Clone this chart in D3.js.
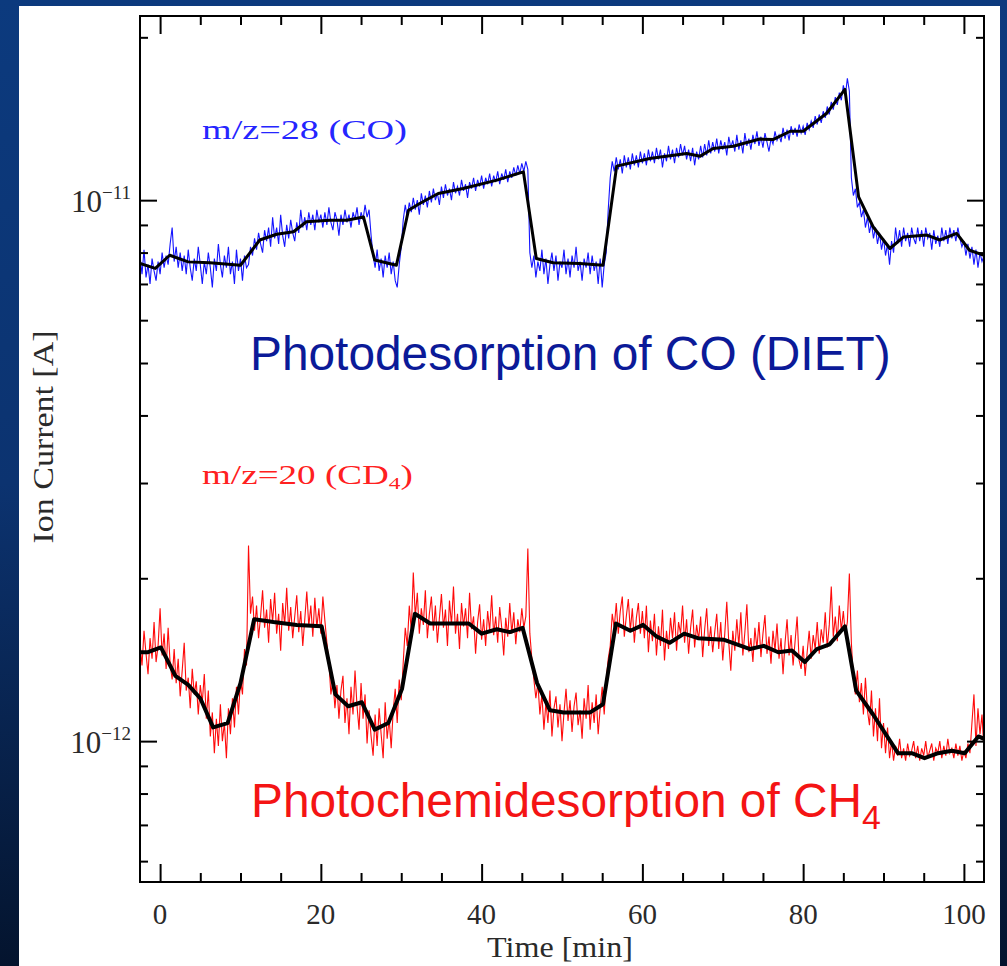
<!DOCTYPE html>
<html>
<head>
<meta charset="utf-8">
<script src="https://cdn.jsdelivr.net/npm/d3@7"></script>
<style>
  html, body { margin: 0; padding: 0; background: #0b336e; }
  svg { display: block; }
</style>
</head>
<body>
<svg id="chart" width="1007" height="966"></svg>
<script>
// ---------------------------------------------------------------
// Data: ion currents in units of 1e-12 A, sampled every 0.25 min
// ---------------------------------------------------------------
const timeDomain = [-2.5, 102.5];          // min
const currentDomain = [5.49e-13, 2.19e-11]; // A
const sampleStart = -2.5;
const sampleStep = 0.25;
const unit = 1e-12;

const xMajorTicks = [0, 20, 40, 60, 80, 100];
const xMinorTicks = [5, 10, 15, 25, 30, 35, 45, 50, 55, 65, 70, 75, 85, 90, 95];
const yMajorTicks = [1e-12, 1e-11];
const yMajorExponents = ["\u221212", "\u221211"];

// m/z = 28 (CO), raw signal
const coRaw = [
  // -2.5 .. 10.75 min
  7.9,7.3,8.1,7.2, 7.6,7.0,7.8,7.4, 7.1,7.7,7.3,8.0, 7.5,7.9,7.6,8.3,
  8.9,7.7,8.2,7.5, 8.0,7.4,7.9,7.3, 8.1,7.5,7.1,7.8, 7.4,8.2,7.6,7.0,
  7.7,7.3,8.0,7.5, 6.9,7.8,7.4,8.3, 7.6,7.2,7.9,7.5, 8.2,7.3,7.7,7.0,
  8.1,7.4,7.8,7.1, 7.9,7.5,
  // 11 .. 26 min
  7.6,8.2,7.9,8.5, 8.1,8.7,8.3,8.0, 8.8,8.4,8.9,8.2, 9.3,8.5,8.9,8.3, 9.4,8.6,8.2,9.0,
  8.5,9.2,8.7,8.4, 9.1,8.7,9.6,8.9, 9.3,8.8,9.5,9.0, 9.4,8.8,9.6,9.1, 9.4,8.9,9.5,9.0,
  9.7,9.1,8.8,9.5, 9.2,8.6,9.4,9.0, 9.6,9.1,9.4,8.9, 9.5,9.2,9.7,9.0, 9.5,9.2,9.8,9.3,
  9.6,
  // 26.25 .. 30 min
  8.6,7.9,7.5, 8.1,7.4,7.8,7.2, 7.9,7.5,8.0,7.3, 7.7,7.1,6.9,7.6, 8.2,
  // 30.25 .. 45.75 min
  9.2,9.8,9.3,
  9.9,9.5,10.1,9.6, 10.0,9.4,10.3,9.8, 10.2,9.7,10.4,9.9, 10.5,10.0,10.3,9.8, 10.6,10.1,10.7,10.2,
  10.5,10.0,10.8,10.3, 10.6,10.2,10.9,10.4, 10.7,10.1,10.8,10.5, 11.0,10.4,10.9,10.6, 11.1,10.5,11.0,10.7,
  11.2,10.6,11.1,10.8, 11.3,10.7,11.2,10.9, 11.4,10.8,11.3,11.0, 11.5,11.1,11.6,11.2, 11.7,11.3,11.8,11.4,
  // 46 .. 55.75 min
  8.0,7.5,7.9,7.2, 7.7,7.4,8.1,7.3, 7.8,7.0,7.6,8.0, 7.4,7.9,7.1,7.7, 7.5,8.1,7.3,7.8,
  7.2,7.9,7.5,8.2, 7.4,7.7,7.1,7.8, 7.5,8.0,7.3,7.9, 7.4,7.7,7.0,7.8, 6.9,7.6,8.0,9.6,
  // 56 .. 85.75 min
  11.0,11.8,11.3,12.0, 11.4,11.9,11.2,12.1, 11.5,12.0,11.4,12.2, 11.6,12.1,11.5,12.3, 11.7,12.2,11.6,12.4,
  11.8,12.3,11.7,12.5, 11.9,12.4,11.5,12.2, 11.8,12.6,11.9,12.4, 11.7,12.5,12.0,12.7, 12.1,12.6,11.9,12.4,
  11.8,12.5,11.6,12.3, 11.9,12.6,12.0,12.7, 12.1,12.9,12.2,12.8, 12.3,13.0,12.2,12.9, 12.4,12.8,12.1,13.1,
  12.5,12.9,12.3,13.2, 12.4,12.9,12.2,13.3, 12.6,13.0,12.4,13.2, 12.7,13.4,12.6,13.1, 12.5,13.3,12.8,12.3,
  13.0,12.7,13.4,12.9, 13.2,12.8,13.6,13.0, 13.5,12.9,13.7,13.2, 13.6,13.1,13.8,13.3, 13.7,13.2,13.9,13.5,
  14.0,13.6,14.3,13.8, 14.4,13.9,14.6,14.2, 14.9,14.4,15.2,14.7, 15.5,15.0,15.8,15.3, 16.3,15.6,16.8,15.9,
  // 86 .. 102.5 min
  11.0,10.2,10.5,9.7, 9.9,9.3,9.6,8.9, 9.3,8.7,9.1,8.5, 8.9,8.3,8.7,8.1, 8.5,7.9,8.3,7.6,
  8.4,8.0,8.9,8.3, 8.8,8.2,8.9,8.4, 8.7,8.2,8.9,8.5, 8.3,8.9,8.4,8.8, 8.2,8.9,8.5,8.7,
  8.1,8.8,8.3,8.6, 8.2,8.9,8.4,8.8, 8.3,8.9,8.5,8.8, 8.4,8.9,8.5,8.2, 8.4,7.9,8.3,7.8,
  8.2,7.6,8.1,7.5, 8.0,7.7,7.9
];

// m/z = 28 (CO), smoothed trace
const coSmoothTime = [-2.5,-0.6,1.2,3.5,6.2,10,12.4,14.5,16.6,18.2,21.1,23.2,25.3,26.7,29.4,30.9,
  32.3,34.6,37.7,41.9,45.2,46.8,48.9,52.2,55.1,56.8,60.9,65.5,67.2,68.8,71.3,74.6,76.3,78.4,80,
  82.9,85.2,86.9,88.7,90.8,92.5,95.4,97,99.1,100.7,102.5];
const coSmoothValue = [7.64,7.48,7.91,7.69,7.66,7.58,8.44,8.65,8.74,9.12,9.18,9.18,9.31,7.75,7.58,9.58,
  9.86,10.29,10.51,10.89,11.28,7.80,7.66,7.64,7.58,11.56,11.94,12.20,12.06,12.46,12.58,12.97,12.95,13.41,13.41,
  14.46,16.02,10.14,8.93,8.14,8.55,8.62,8.44,8.68,8.08,7.91];

// m/z = 20 (CD4), raw signal
const cd4Raw = [
  // -2.5 .. 10.75 min
  1.52,1.38,1.60,1.45, 1.33,1.55,1.42,1.66, 1.40,1.50,1.76,1.44, 1.58,1.36,1.62,1.39, 1.30,1.48,1.28,1.42,
  1.21,1.35,1.52,1.24, 1.31,1.15,1.36,1.22, 1.29,1.12,1.27,1.18, 1.33,1.10,1.24,1.02, 1.13,0.95,1.10,0.98,
  1.17,1.00,1.08,0.93, 1.15,1.03,1.20,1.06, 1.26,1.12,1.30,1.22, 1.48,1.38,
  // 11 .. 20.75 min
  2.30,1.72,1.85,1.60, 1.78,1.55,1.70,1.90, 1.62,1.75,1.52,1.83, 1.66,1.88,1.58,1.72, 1.47,1.80,1.64,1.92,
  1.60,1.77,1.55,1.70, 1.86,1.59,1.74,1.50, 1.68,1.89,1.63,1.78, 1.56,1.84,1.62,1.76, 1.58,1.85,1.67,1.52,
  // 21 .. 30.75 min
  1.40,1.22,1.30,1.15, 1.27,1.10,1.24,1.32, 1.08,1.20,1.03,1.26, 1.12,1.35,1.16,1.05, 1.28,1.10,1.22,0.99,
  1.14,1.02,0.94,1.12, 0.98,1.15,1.03,0.93, 1.18,1.01,1.10,0.97, 1.14,1.25,1.08,1.30, 1.19,1.40,1.62,1.50,
  // 31 .. 45.75 min
  1.78,1.60,2.05,1.70, 1.88,1.58,1.76,1.64, 1.90,1.55,1.72,1.85, 1.60,1.78,1.52,1.69, 1.87,1.62,1.75,1.50,
  1.82,1.64,1.93,1.58, 1.72,1.48,1.80,1.63, 1.76,1.55,1.88,1.61, 1.70,1.45,1.66,1.79, 1.54,1.68,1.50,1.74,
  1.60,1.86,1.57,1.70, 1.52,1.77,1.62,1.44, 1.69,1.56,1.80,1.58, 1.73,1.51,1.68,1.59, 1.76,1.62,1.70,2.27,
  // 46 .. 55.75 min
  1.58,1.42,1.30,1.20, 1.28,1.12,1.22,1.05, 1.18,1.08,1.24,1.02, 1.15,1.21,1.06,1.17, 1.00,1.13,1.25,1.09,
  1.19,1.04,1.16,1.23, 1.07,1.14,1.01,1.20, 1.10,1.27,1.05,1.18, 1.08,1.22,1.03,1.15, 1.26,1.12,1.30,1.42,
  // 56 .. 85.75 min
  1.50,1.72,1.62,1.80, 1.58,1.74,1.85,1.56, 1.70,1.83,1.60,1.76, 1.52,1.69,1.80,1.58, 1.74,1.55,1.78,1.46,
  1.67,1.53,1.72,1.44, 1.63,1.50,1.75,1.41, 1.60,1.48,1.69,1.55, 1.73,1.47,1.66,1.58, 1.78,1.52,1.68,1.45,
  1.62,1.75,1.49,1.64, 1.54,1.70,1.43,1.61, 1.76,1.50,1.63,1.46, 1.59,1.72,1.48,1.66, 1.41,1.58,1.81,1.52,
  1.35,1.60,1.47,1.68, 1.50,1.73,1.44,1.59, 1.79,1.46,1.55,1.40, 1.62,1.48,1.66,1.43, 1.58,1.71,1.45,1.56,
  1.39,1.60,1.47,1.65, 1.42,1.55,1.33,1.52, 1.68,1.44,1.57,1.38, 1.53,1.70,1.41,1.36, 1.50,1.32,1.46,1.60,
  1.42,1.57,1.48,1.66, 1.45,1.61,1.52,1.73, 1.49,1.64,1.93,1.56, 1.70,1.53,1.78,1.60, 1.74,1.57,1.66,2.04,
  // 86 .. 102.5 min
  1.52,1.30,1.22,1.35, 1.18,1.28,1.12,1.31, 1.14,1.07,1.24,1.02, 1.15,1.00,1.20,0.97, 1.08,0.95,1.06,0.93,
  1.00,0.92,0.98,0.94, 1.01,0.93,0.97,0.92, 0.99,0.94,0.96,1.00, 0.93,0.98,0.92,0.97, 0.94,1.00,0.93,0.96,
  0.99,0.92,0.97,0.95, 1.00,0.93,0.98,0.94, 1.01,0.95,0.97,0.93, 0.99,0.94,0.98,0.92, 0.96,0.93,0.99,0.95,
  1.08,1.22,0.98,1.15, 1.03,1.12,0.96
];

// m/z = 20 (CD4), smoothed trace
const cd4SmoothTime = [-2.5,-1.5,0.1,1.9,3.5,5,6.6,8.4,10,11.7,14.1,17,20.1,21.8,23.4,25.1,26.7,28.4,
  30.1,31.7,33.6,36.1,38.4,40,41.9,43.5,45.1,46.9,48.5,50.2,53.5,55.1,56.7,58.5,60.1,61.8,63.4,65.2,
  66.9,70.1,73.4,75.1,76.9,78.6,80.2,81.7,83.3,85.2,86.6,88.7,91.8,93.5,95.1,96.8,98.5,100.1,101.8,102.5];
const cd4SmoothValue = [1.46,1.46,1.49,1.32,1.27,1.20,1.06,1.08,1.28,1.68,1.66,1.64,1.63,1.22,1.16,1.18,1.05,1.08,
  1.25,1.72,1.65,1.65,1.65,1.58,1.61,1.59,1.62,1.28,1.14,1.13,1.13,1.17,1.65,1.60,1.64,1.56,1.52,1.58,
  1.55,1.54,1.48,1.50,1.46,1.47,1.40,1.48,1.51,1.63,1.24,1.12,0.95,0.95,0.93,0.95,0.96,0.95,1.02,1.01];

// ---------------------------------------------------------------
// Layout
// ---------------------------------------------------------------
const W = 1007, H = 966;
const plot = { left: 140, right: 984, top: 16, bottom: 882 };

const svg = d3.select("#chart");
const defs = svg.append("defs");

const grad = defs.append("linearGradient")
  .attr("id", "bg").attr("x1", 0).attr("y1", 0).attr("x2", 0).attr("y2", 1);
grad.append("stop").attr("offset", "0%").attr("stop-color", "#0c3a7e");
grad.append("stop").attr("offset", "50%").attr("stop-color", "#0c3370");
grad.append("stop").attr("offset", "100%").attr("stop-color", "#04142e");

defs.append("clipPath").attr("id", "plotClip")
  .append("rect")
  .attr("x", plot.left).attr("y", plot.top)
  .attr("width", plot.right - plot.left).attr("height", plot.bottom - plot.top);

svg.append("rect").attr("width", W).attr("height", H).attr("fill", "url(#bg)");
svg.append("rect").attr("x", 19).attr("y", 6).attr("width", 981).attr("height", H - 6).attr("fill", "#ffffff");

const x = d3.scaleLinear().domain(timeDomain).range([plot.left, plot.right]);
const y = d3.scaleLog().domain(currentDomain).range([plot.bottom, plot.top]);

// ---------------------------------------------------------------
// Traces
// ---------------------------------------------------------------
const data = svg.append("g").attr("clip-path", "url(#plotClip)");

const rawLine = d3.line()
  .x((d, i) => x(sampleStart + i * sampleStep))
  .y(d => y(d * unit));

const smoothLine = d3.line()
  .x(d => x(d[0]))
  .y(d => y(d[1] * unit));

data.append("path").datum(coRaw)
  .attr("d", rawLine).attr("fill", "none")
  .attr("stroke", "#1414ff").attr("stroke-width", 1.1);

data.append("path").datum(d3.zip(coSmoothTime, coSmoothValue))
  .attr("d", smoothLine).attr("fill", "none")
  .attr("stroke", "#000").attr("stroke-width", 3).attr("stroke-linejoin", "round");

data.append("path").datum(cd4Raw)
  .attr("d", rawLine).attr("fill", "none")
  .attr("stroke", "#ff0a0a").attr("stroke-width", 1.1);

data.append("path").datum(d3.zip(cd4SmoothTime, cd4SmoothValue))
  .attr("d", smoothLine).attr("fill", "none")
  .attr("stroke", "#000").attr("stroke-width", 4).attr("stroke-linejoin", "round");

// ---------------------------------------------------------------
// Axes (inward ticks on all four sides)
// ---------------------------------------------------------------
const isDecade = v => Math.abs(Math.log10(v) - Math.round(Math.log10(v))) < 1e-6;
const yMinorTicks = y.ticks().filter(v => !isDecade(v));

function drawAxis(axis, transform) {
  const g = svg.append("g").attr("transform", transform).call(axis);
  g.select(".domain").remove();
  g.selectAll("text").remove();
  g.selectAll("line").attr("stroke", "#000").attr("stroke-width", 2);
  return g;
}

drawAxis(d3.axisLeft(y).tickValues(yMajorTicks).tickSize(-17), `translate(${plot.left},0)`);
drawAxis(d3.axisLeft(y).tickValues(yMinorTicks).tickSize(-8), `translate(${plot.left},0)`);
drawAxis(d3.axisRight(y).tickValues(yMajorTicks).tickSize(-17), `translate(${plot.right},0)`);
drawAxis(d3.axisRight(y).tickValues(yMinorTicks).tickSize(-8), `translate(${plot.right},0)`);
drawAxis(d3.axisBottom(x).tickValues(xMajorTicks).tickSize(-18), `translate(0,${plot.bottom})`);
drawAxis(d3.axisBottom(x).tickValues(xMinorTicks).tickSize(-9), `translate(0,${plot.bottom})`);
drawAxis(d3.axisTop(x).tickValues(xMajorTicks).tickSize(-18), `translate(0,${plot.top})`);
drawAxis(d3.axisTop(x).tickValues(xMinorTicks).tickSize(-9), `translate(0,${plot.top})`);

svg.append("rect")
  .attr("x", plot.left).attr("y", plot.top)
  .attr("width", plot.right - plot.left).attr("height", plot.bottom - plot.top)
  .attr("fill", "none").attr("stroke", "#000").attr("stroke-width", 2);

const serif = "'Liberation Serif', 'DejaVu Serif', serif";
const sans = "'Liberation Sans', Arial, sans-serif";

// x tick labels
svg.append("g").selectAll("text").data(xMajorTicks).join("text")
  .attr("x", d => x(d)).attr("y", plot.bottom + 42)
  .attr("text-anchor", "middle")
  .attr("font-family", serif).attr("font-size", 29).attr("fill", "#2a2a2a")
  .text(d => d);

// y tick labels: 10^n
yMajorTicks.forEach((v, i) => {
  const t = svg.append("text")
    .attr("x", 131).attr("y", y(v) + 12)
    .attr("text-anchor", "end")
    .attr("font-family", serif).attr("font-size", 31).attr("fill", "#2a2a2a");
  t.append("tspan").text("10");
  t.append("tspan").attr("dy", -13).attr("font-size", 19).text(yMajorExponents[i]);
});

// Text stretched horizontally to a given width (Hershey-like wide lettering)
function wideText(px, py, width, build, opts) {
  const g = svg.append("g");
  const t = g.append("text")
    .attr("font-family", opts.family).attr("font-size", opts.size)
    .attr("fill", opts.fill).attr("text-anchor", opts.anchor || "start");
  build(t);
  const w = t.node().getBBox().width;
  g.attr("transform", `translate(${px},${py}) ${opts.rotate ? "rotate(-90)" : ""} scale(${width / w},1)`);
  return g;
}

wideText(560, 957, 146, t => t.text("Time [min]"),
  { family: serif, size: 29, fill: "#2a2a2a", anchor: "middle" });
wideText(53, 437, 213, t => t.text("Ion Current [A]"),
  { family: serif, size: 29, fill: "#2a2a2a", anchor: "middle", rotate: true });

wideText(202, 139, 205, t => t.text("m/z=28 (CO)"),
  { family: serif, size: 27, fill: "#2525ff" });
wideText(202, 484, 211, t => {
  t.append("tspan").text("m/z=20 (CD");
  t.append("tspan").attr("font-size", 17).attr("dy", 5).text("4");
  t.append("tspan").attr("dy", -5).text(")");
}, { family: serif, size: 27, fill: "#ff2020" });

wideText(250, 370, 641, t => t.text("Photodesorption of CO (DIET)"),
  { family: sans, size: 48, fill: "#0b1a98" });
wideText(251, 817, 630, t => {
  t.append("tspan").text("Photochemidesorption of CH");
  t.append("tspan").attr("font-size", 34).attr("dy", 12).text("4");
}, { family: sans, size: 48, fill: "#f41414" });
</script>
</body>
</html>
